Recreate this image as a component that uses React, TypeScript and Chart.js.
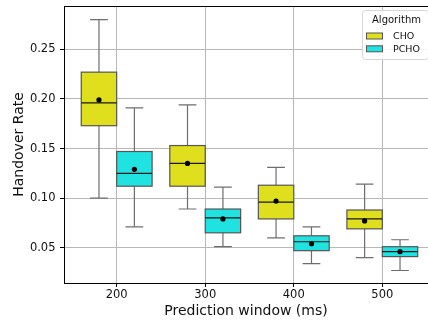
import React, { useEffect, useRef } from "react";
import { Chart, registerables } from "chart.js";

Chart.register(...registerables);

// ---- data ----
const windows = [200, 300, 400, 500];
const algorithms = ["CHO", "PCHO"];
const algoOffsets = [-20, 20];
const algoColors = ["#dfdf1e", "#20e2e0"];

const choWhiskerLow = [0.100, 0.089, 0.060, 0.040];
const choQ1 = [0.173, 0.112, 0.079, 0.069];
const choMedian = [0.196, 0.135, 0.096, 0.079];
const choQ3 = [0.227, 0.153, 0.113, 0.088];
const choWhiskerHigh = [0.280, 0.194, 0.131, 0.114];
const choMean = [0.199, 0.135, 0.097, 0.077];

const pchoWhiskerLow = [0.071, 0.051, 0.034, 0.027];
const pchoQ1 = [0.112, 0.065, 0.047, 0.041];
const pchoMedian = [0.125, 0.080, 0.056, 0.046];
const pchoQ3 = [0.147, 0.089, 0.062, 0.051];
const pchoWhiskerHigh = [0.191, 0.111, 0.071, 0.058];
const pchoMean = [0.129, 0.079, 0.054, 0.046];

const yTicks = [0.05, 0.1, 0.15, 0.2, 0.25];
const xTicks = [200, 300, 400, 500];

const series = [
  { lo: choWhiskerLow, q1: choQ1, med: choMedian, q3: choQ3, hi: choWhiskerHigh, mean: choMean },
  { lo: pchoWhiskerLow, q1: pchoQ1, med: pchoMedian, q3: pchoQ3, hi: pchoWhiskerHigh, mean: pchoMean },
];

const FONT = "'DejaVu Sans', sans-serif";
const BOX_HALF = 20;
const CAP_HALF = 10;

const boxPlugin = {
  id: "boxes",
  beforeDatasetsDraw(chart: any) {
    const { ctx, scales } = chart;
    const xs = scales.x;
    const ys = scales.y;
    ctx.save();
    series.forEach((s, ai) => {
      windows.forEach((w, i) => {
        const c = w + algoOffsets[ai];
        const xl = xs.getPixelForValue(c - BOX_HALF);
        const xr = xs.getPixelForValue(c + BOX_HALF);
        const xc = xs.getPixelForValue(c);
        const cl = xs.getPixelForValue(c - CAP_HALF);
        const cr = xs.getPixelForValue(c + CAP_HALF);
        const yq1 = ys.getPixelForValue(s.q1[i]);
        const yq3 = ys.getPixelForValue(s.q3[i]);
        const ylo = ys.getPixelForValue(s.lo[i]);
        const yhi = ys.getPixelForValue(s.hi[i]);
        const ymed = ys.getPixelForValue(s.med[i]);
        // whiskers
        ctx.strokeStyle = "#6e6e6e";
        ctx.lineWidth = 1.2;
        ctx.beginPath();
        ctx.moveTo(xc, yq3);
        ctx.lineTo(xc, yhi);
        ctx.moveTo(xc, yq1);
        ctx.lineTo(xc, ylo);
        ctx.moveTo(cl, yhi);
        ctx.lineTo(cr, yhi);
        ctx.moveTo(cl, ylo);
        ctx.lineTo(cr, ylo);
        ctx.stroke();
        // box
        ctx.fillStyle = algoColors[ai];
        ctx.fillRect(xl, yq3, xr - xl, yq1 - yq3);
        ctx.strokeStyle = "#555555";
        ctx.lineWidth = 1.2;
        ctx.strokeRect(xl, yq3, xr - xl, yq1 - yq3);
        // median
        ctx.strokeStyle = "#1a1a1a";
        ctx.lineWidth = 1.2;
        ctx.beginPath();
        ctx.moveTo(xl, ymed);
        ctx.lineTo(xr, ymed);
        ctx.stroke();
      });
    });
    ctx.restore();
  },
  afterDraw(chart: any) {
    const { ctx, chartArea } = chart;
    ctx.save();
    // frame (top spine)
    ctx.strokeStyle = "#000";
    ctx.lineWidth = 1;
    ctx.beginPath();
    ctx.moveTo(chartArea.left, Math.round(chartArea.top) + 0.5);
    ctx.lineTo(chartArea.right, Math.round(chartArea.top) + 0.5);
    ctx.stroke();
    // legend
    const lx = 362.5, ly = 10.5, lw = 66, lh = 49, r = 3;
    ctx.fillStyle = "rgba(255,255,255,0.85)";
    ctx.strokeStyle = "#d6d6d6";
    ctx.lineWidth = 1;
    ctx.beginPath();
    ctx.moveTo(lx + r, ly);
    ctx.lineTo(lx + lw - r, ly);
    ctx.arcTo(lx + lw, ly, lx + lw, ly + r, r);
    ctx.lineTo(lx + lw, ly + lh - r);
    ctx.arcTo(lx + lw, ly + lh, lx + lw - r, ly + lh, r);
    ctx.lineTo(lx + r, ly + lh);
    ctx.arcTo(lx, ly + lh, lx, ly + lh - r, r);
    ctx.lineTo(lx, ly + r);
    ctx.arcTo(lx, ly, lx + r, ly, r);
    ctx.closePath();
    ctx.fill();
    ctx.stroke();
    ctx.fillStyle = "#111";
    ctx.textBaseline = "middle";
    ctx.textAlign = "center";
    ctx.font = `10px ${FONT}`;
    ctx.fillText("Algorithm", 396.5, 20);
    ctx.textAlign = "left";
    ctx.font = `9.5px ${FONT}`;
    algorithms.forEach((a, i) => {
      const yy = 36 + i * 12.8;
      ctx.fillStyle = algoColors[i];
      ctx.fillRect(366.5, yy - 3, 16, 6);
      ctx.strokeStyle = "#555";
      ctx.lineWidth = 1;
      ctx.strokeRect(366.5, yy - 3, 16, 6);
      ctx.fillStyle = "#111";
      ctx.fillText(a, 393, yy + 0.5);
    });
    ctx.restore();
  },
};

export default function App() {
  const ref = useRef<HTMLCanvasElement | null>(null);
  useEffect(() => {
    if (!ref.current) return;
    Chart.defaults.font.family = FONT;
    const chart = new Chart(ref.current, {
      type: "scatter",
      data: {
        datasets: algorithms.map((a, ai) => ({
          label: a,
          data: windows.map((w, i) => ({ x: w + algoOffsets[ai], y: series[ai].mean[i] })),
          pointRadius: 2.6,
          pointHoverRadius: 2.6,
          pointBackgroundColor: "#000",
          pointBorderColor: "#000",
          pointBorderWidth: 0,
        })),
      },
      options: {
        animation: false,
        responsive: false,
        devicePixelRatio: 1,
        layout: { autoPadding: false, padding: { top: 6, right: 0, left: 0, bottom: 0 } },
        plugins: { legend: { display: false }, tooltip: { enabled: false } },
        scales: {
          x: {
            type: "linear",
            min: 140.5,
            max: 551.6,
            afterFit: (s: any) => {
              s.height = 43;
              s.paddingLeft = 0;
              s.paddingRight = 0;
              s.paddingTop = 0;
              s.paddingBottom = 0;
            },
            afterBuildTicks: (s: any) => { s.ticks = xTicks.map((v) => ({ value: v })); },
            ticks: {
              font: { size: 11.5 },
              color: "#111",
              padding: 1,
              maxRotation: 0,
              callback: (v: any) => String(v),
            },
            grid: { color: "#b8b8b8", lineWidth: 1, tickLength: 4, tickColor: "#000", drawTicks: true },
            border: { color: "#000", width: 1 },
            title: { display: true, text: "Prediction window (ms)", font: { size: 14 }, color: "#111", padding: { top: 0, bottom: 6.6 } },
          },
          y: {
            type: "linear",
            min: 0.0144,
            max: 0.2937,
            afterFit: (s: any) => {
              s.width = 64;
              s.paddingLeft = 0;
              s.paddingRight = 0;
              s.paddingTop = 0;
              s.paddingBottom = 0;
            },
            afterBuildTicks: (s: any) => { s.ticks = yTicks.map((v) => ({ value: v })); },
            ticks: {
              font: { size: 11.5 },
              color: "#111",
              padding: 4.5,
              callback: (v: any) => Number(v).toFixed(2),
            },
            grid: { color: "#b8b8b8", lineWidth: 1, tickLength: 4, tickColor: "#000", drawTicks: true },
            border: { color: "#000", width: 1 },
            title: { display: true, text: "Handover Rate", font: { size: 14 }, color: "#111", padding: { top: 10.6, bottom: 0 } },
          },
        },
      },
      plugins: [boxPlugin],
    });
    return () => chart.destroy();
  }, []);
  return (
    <div style={{ position: "absolute", left: 0, top: 0, width: 428, height: 326 }}>
      <canvas ref={ref} width={428} height={326} />
    </div>
  );
}
